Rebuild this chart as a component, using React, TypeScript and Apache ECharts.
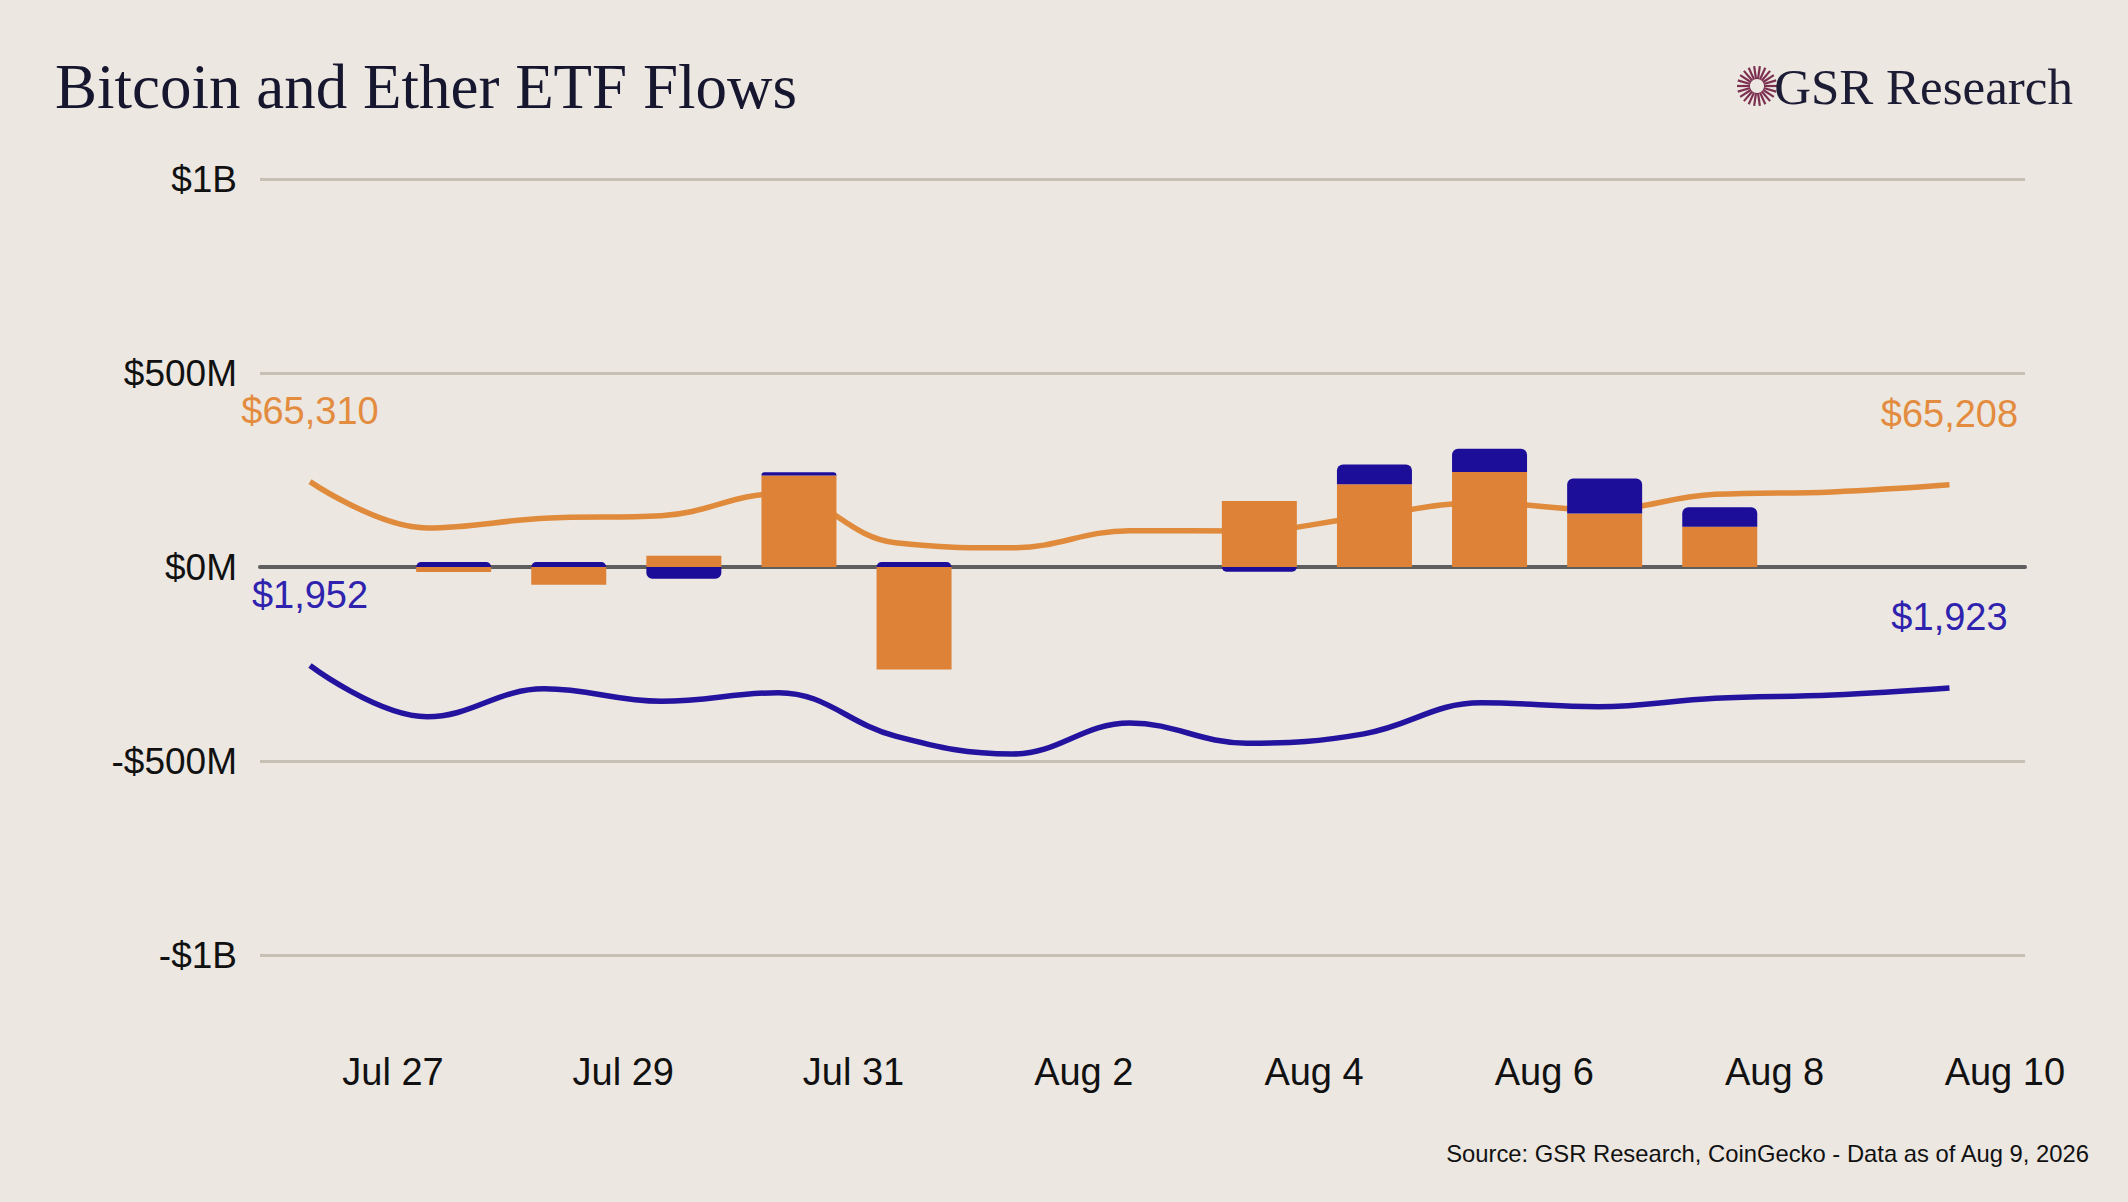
import React, { useEffect, useRef } from 'react';
import * as echarts from 'echarts';

// weekday ETF net flows, $M
const flowDates = ['Jul 27', 'Jul 28', 'Jul 29', 'Jul 30', 'Jul 31', 'Aug 3', 'Aug 4', 'Aug 5', 'Aug 6', 'Aug 7'];
const btcEtfFlows = [-13, -46, 29, 236, -264, 170, 213, 245, 138, 104];
const ethEtfFlows = [13, 13, -30, 8, 13, -12, 51, 60, 90, 50];

// daily closes
const priceDates = ['Jul 26', 'Jul 27', 'Jul 28', 'Jul 29', 'Jul 30', 'Jul 31', 'Aug 1', 'Aug 2', 'Aug 3', 'Aug 4', 'Aug 5', 'Aug 6', 'Aug 7', 'Aug 8', 'Aug 9'];
const btcPrice = [65310, 63820, 64130, 64210, 64920, 63340, 63180, 63730, 63720, 64180, 64630, 64400, 64900, 64980, 65208];
const ethPrice = [1952, 1886, 1922, 1906, 1917, 1861, 1838, 1878, 1852, 1864, 1904, 1899, 1910, 1914, 1923];

// axis ticks
const tickDates = ['Jul 27', 'Jul 29', 'Jul 31', 'Aug 2', 'Aug 4', 'Aug 6', 'Aug 8', 'Aug 10'];
const tickDayIndex = [0, 2, 4, 6, 8, 10, 12, 14];
const flowTicks = [-1000, -500, 0, 500, 1000];

const BG = '#ECE7E1';
const ORANGE = '#DD8237';
const ORANGE_LINE = '#E08A3C';
const BLUE = '#1D0E99';
const BLUE_LINE = '#24139F';
const SANS = '"Liberation Sans", Arial, Helvetica, sans-serif';
const SERIF = '"Liberation Serif", "DejaVu Serif", serif';

const fmtFlow = (v: number) => {
    const sign = v < 0 ? '-' : '';
    const a = Math.abs(v);
    return a >= 1000 ? `${sign}$${a / 1000}B` : `${sign}$${a}M`;
};
const fmtPrice = (v: number) => '$' + v.toLocaleString('en-US');

// flows laid out on the daily calendar, '-' where there was no trading
const onCalendar = (vals: number[]) =>
    priceDates.map((d) => {
        const i = flowDates.indexOf(d);
        return i < 0 ? '-' : vals[i];
    });

const starburst = () => {
    const rays = [];
    for (let k = 0; k < 22; k++) {
        const a = (k / 22) * Math.PI * 2;
        rays.push({
            type: 'line',
            shape: { x1: Math.cos(a) * 7, y1: Math.sin(a) * 7, x2: Math.cos(a) * 20, y2: Math.sin(a) * 20 },
            style: { stroke: '#7C3050', lineWidth: 2.2 },
        });
    }
    return rays;
};

const priceLabel = (color: string) => ({
    show: true,
    position: 'top',
    distance: 52,
    color,
    fontSize: 38,
    fontFamily: SANS,
    formatter: (p: any) => fmtPrice(p.value[1]),
});

const App: React.FC = () => {
    const chartRef = useRef<HTMLDivElement>(null);

    useEffect(() => {
        if (!chartRef.current) return;
        const chart = echarts.init(chartRef.current, null, { renderer: 'svg' });
        const last = priceDates.length - 1;

        chart.setOption({
            animation: false,
            backgroundColor: BG,
            grid: [
                { left: 260, right: 103, top: 179, bottom: 247 },
                // bar grid: one band per calendar day
                { left: 281, right: 120.5, top: 179, bottom: 247 },
            ],
            xAxis: [
                {
                    // zero line
                    type: 'value',
                    gridIndex: 0,
                    position: 'bottom',
                    min: 0,
                    max: 1,
                    axisLine: { show: true, onZero: true, onZeroAxisIndex: 0, lineStyle: { color: '#5E5E5E', width: 4 } },
                    axisTick: { show: false },
                    axisLabel: { show: false },
                    splitLine: { show: false },
                },
                {
                    // date labels
                    type: 'value',
                    gridIndex: 0,
                    position: 'bottom',
                    min: -1.155,
                    max: 14.175,
                    axisLine: { show: false },
                    axisTick: { show: false },
                    splitLine: { show: false },
                    axisLabel: {
                        customValues: tickDayIndex,
                        formatter: (v: number) => tickDates[tickDayIndex.indexOf(Math.round(v))] ?? '',
                        fontSize: 38,
                        fontFamily: SANS,
                        color: '#111',
                        margin: 98,
                    },
                },
                {
                    // prices
                    type: 'value',
                    gridIndex: 0,
                    position: 'bottom',
                    min: -0.427,
                    max: 14.645,
                    show: false,
                },
                {
                    // flows
                    type: 'category',
                    gridIndex: 1,
                    data: priceDates,
                    show: false,
                },
            ],
            yAxis: [
                {
                    type: 'value',
                    gridIndex: 0,
                    min: flowTicks[0],
                    max: flowTicks[flowTicks.length - 1],
                    interval: 500,
                    axisLine: { show: false },
                    axisTick: { show: false },
                    axisLabel: { formatter: fmtFlow, fontSize: 37, fontFamily: SANS, color: '#111', margin: 23 },
                    splitLine: { lineStyle: { color: '#C7C0B5', width: 3 } },
                },
                { type: 'value', gridIndex: 0, min: 50060, max: 75060, show: false },
                { type: 'value', gridIndex: 0, min: 1579, max: 2579, show: false },
                { type: 'value', gridIndex: 1, min: flowTicks[0], max: flowTicks[flowTicks.length - 1], show: false },
            ],
            series: [
                {
                    name: 'BTC',
                    type: 'line',
                    xAxisIndex: 2,
                    yAxisIndex: 1,
                    smooth: 0.4,
                    symbol: 'circle',
                    symbolSize: 0.1,
                    z: 1,
                    lineStyle: { color: ORANGE_LINE, width: 5.5 },
                    itemStyle: { color: ORANGE_LINE },
                    data: btcPrice.map((p, i) =>
                        i === 0 || i === last ? { value: [i, p], label: priceLabel('#E38C40') } : [i, p]
                    ),
                },
                {
                    name: 'ETH',
                    type: 'line',
                    xAxisIndex: 2,
                    yAxisIndex: 2,
                    smooth: 0.4,
                    symbol: 'circle',
                    symbolSize: 0.1,
                    z: 1,
                    lineStyle: { color: BLUE_LINE, width: 5.5 },
                    itemStyle: { color: BLUE_LINE },
                    data: ethPrice.map((p, i) =>
                        i === 0 || i === last ? { value: [i, p], label: priceLabel('#2E22AE') } : [i, p]
                    ),
                },
                {
                    name: 'BTC ETF flows',
                    type: 'bar',
                    xAxisIndex: 3,
                    yAxisIndex: 3,
                    stack: 'flows',
                    barWidth: 75,
                    z: 3,
                    itemStyle: { color: ORANGE },
                    data: onCalendar(btcEtfFlows),
                },
                {
                    name: 'ETH ETF flows',
                    type: 'bar',
                    xAxisIndex: 3,
                    yAxisIndex: 3,
                    stack: 'flows',
                    barWidth: 75,
                    z: 3,
                    itemStyle: { color: BLUE },
                    data: onCalendar(ethEtfFlows).map((v) =>
                        v === '-'
                            ? v
                            : { value: v, itemStyle: { borderRadius: (v as number) >= 0 ? [6, 6, 0, 0] : [0, 0, 6, 6] } }
                    ),
                },
            ],
            graphic: [
                {
                    type: 'text',
                    x: 55,
                    y: 87,
                    style: { text: 'Bitcoin and Ether ETF Flows', fontFamily: SERIF, fontSize: 63, fill: '#16162F', verticalAlign: 'middle' },
                },
                { type: 'group', x: 1757, y: 86, children: starburst() },
                {
                    type: 'text',
                    x: 2073,
                    y: 87,
                    style: { text: 'GSR Research', fontFamily: SERIF, fontSize: 51, fill: '#1C1C35', align: 'right', verticalAlign: 'middle' },
                },
                {
                    type: 'text',
                    x: 2089,
                    y: 1153,
                    style: {
                        text: 'Source: GSR Research, CoinGecko - Data as of Aug 9, 2026',
                        fontFamily: SANS,
                        fontSize: 23.8,
                        fill: '#111',
                        align: 'right',
                        verticalAlign: 'middle',
                    },
                },
            ],
        });

        return () => {
            chart.dispose();
        };
    }, []);

    return (
        <div style={{ position: 'absolute', left: 0, top: 0, width: 2128, height: 1202, background: BG }}>
            <div ref={chartRef} style={{ width: 2128, height: 1202 }} />
        </div>
    );
};

export default App;
